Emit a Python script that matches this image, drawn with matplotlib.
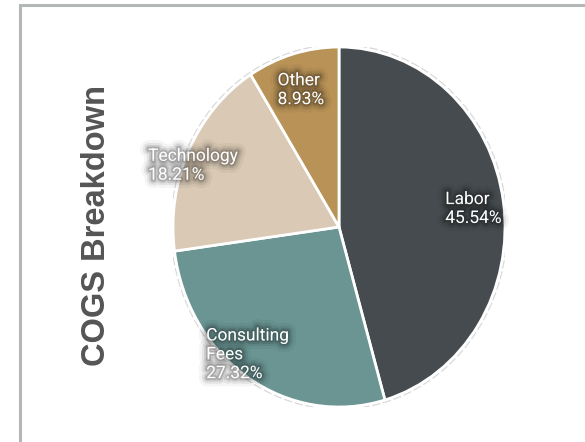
import matplotlib.pyplot as plt
import matplotlib.patheffects as pe
from matplotlib.patches import Rectangle

# COGS breakdown data
categories = ["Labor", "Consulting\nFees", "Technology", "Other"]
shares = [45.54, 27.32, 18.21, 8.93]
colors = ["#454b4f", "#6a9593", "#d9c9b5", "#b99257"]

# label anchor (left edge, vertical centre) in pie data units
label_pos = [(0.64, 0.10), (-0.80, -0.71), (-1.15, 0.34), (-0.37, 0.76)]

fig = plt.figure(figsize=(5.85, 4.42), dpi=100)
fig.patch.set_facecolor("white")

# light grey frame, cropped at right and bottom
fig.patches.append(Rectangle((20/585, -0.1), 1.2, 1 - 5.5/442 + 0.1,
                             transform=fig.transFigure, fill=False,
                             edgecolor="#b3b7b7", linewidth=2.2))

ax = fig.add_axes([173/585, 35/442, 332/585, 360/442])
wedges, _ = ax.pie(shares, colors=colors, startangle=90, counterclock=False,
                   radius=1.0,
                   wedgeprops=dict(edgecolor="white", linewidth=2))
ax.set_aspect("auto")
ax.set_xlim(-1.0, 1.0)
ax.set_ylim(-1.0, 1.0)

# faint outline around the pie
outline = plt.Circle((0, 0), 1.012, fill=False, edgecolor="#dadada",
                     linewidth=1, linestyle=(0, (6, 2)), zorder=0)
ax.add_patch(outline)

glow = [pe.Stroke(linewidth=12, foreground="#000000", alpha=0.04),
        pe.Stroke(linewidth=8, foreground="#000000", alpha=0.07),
        pe.Stroke(linewidth=5, foreground="#000000", alpha=0.10),
        pe.Stroke(linewidth=2.5, foreground="#000000", alpha=0.16),
        pe.Normal()]

for name, val, (x, y) in zip(categories, shares, label_pos):
    ax.text(x, y, f"{name}\n{val:.2f}%", ha="left", va="center",
            color="white", fontsize=12.5, family="Roboto",
            linespacing=1.32, path_effects=glow)

fig.text(97/585, 1 - 225/442, "COGS Breakdown", rotation=90,
         ha="center", va="center", fontsize=23.5, fontweight="bold",
         color="#555555", family="Liberation Sans")

fig.savefig("out.png", dpi=100)
